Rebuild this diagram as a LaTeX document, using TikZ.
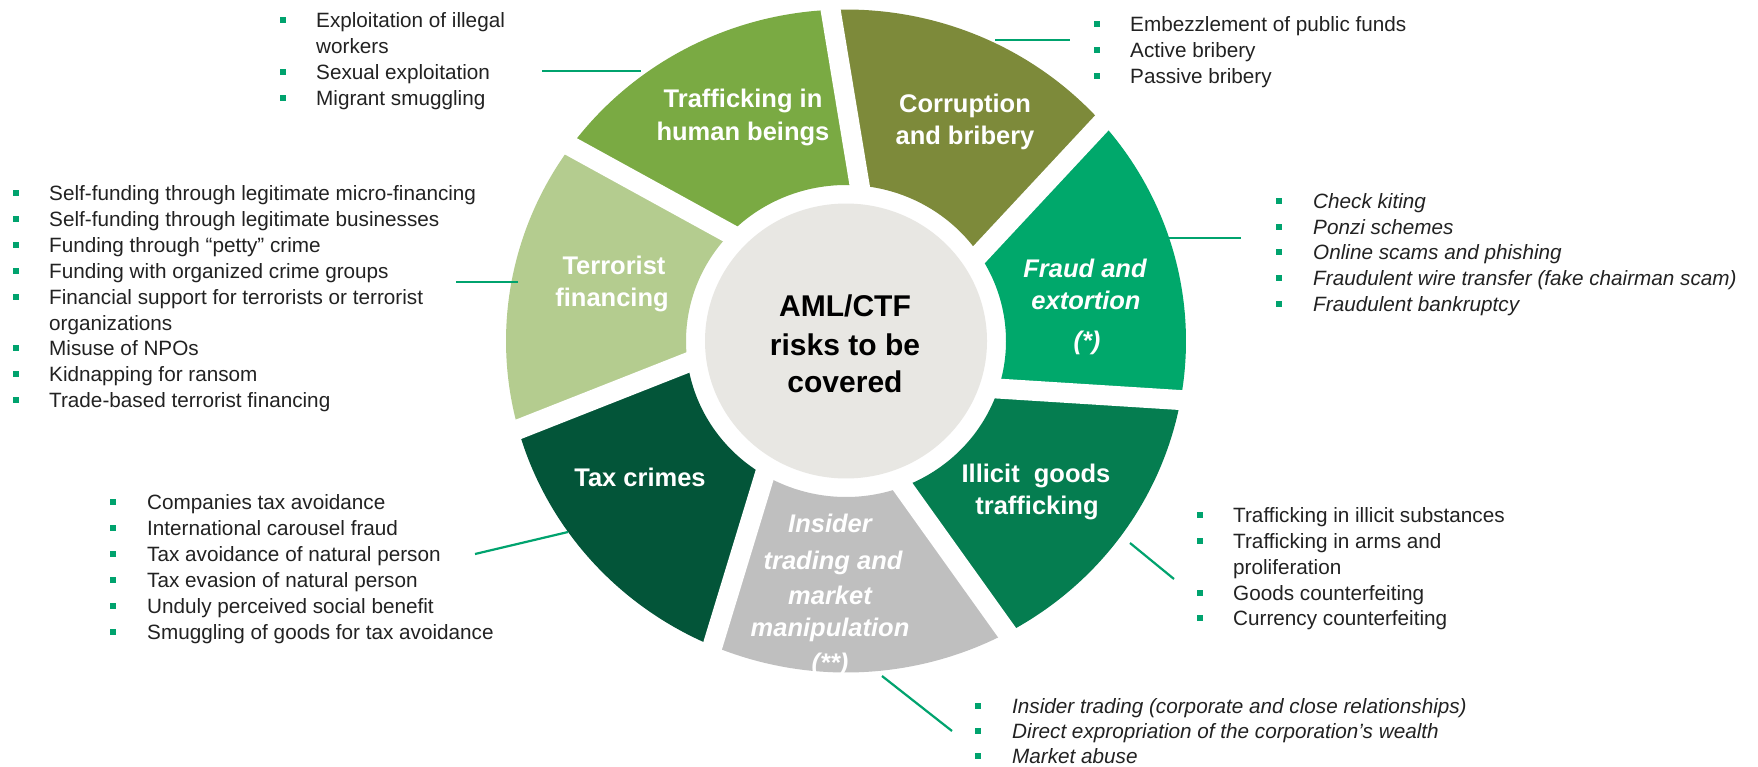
\documentclass[tikz,border=0pt]{standalone}
\usepackage{fontspec}
\setmainfont{Liberation Sans}
\usetikzlibrary{calc}

\definecolor{cTraf}{HTML}{7AAA43}
\definecolor{cCor}{HTML}{7D8A3A}
\definecolor{cFra}{HTML}{00A86B}
\definecolor{cIll}{HTML}{057D50}
\definecolor{cIns}{HTML}{BFBFBF}
\definecolor{cTax}{HTML}{035539}
\definecolor{cTer}{HTML}{B4CC8F}
\definecolor{cHub}{HTML}{E8E7E3}
\definecolor{lead}{HTML}{00A36E}
\definecolor{txt}{HTML}{222222}

% bulleted list line: [style]{name}{bullet x}{text x}{line centre y}{text}
\newcommand\bitem[6][listtext]{%
  \fill[lead] (#3-3.2,#5-3.2) rectangle (#3+3.2,#5+3.2);
  \node[#1] (#2) at (#4,#5+7.5) {#6};}
% continuation line of an item
\newcommand\citem[5][listtext]{%
  \node[#1] (#2) at (#3,#4+7.5) {#5};}

\begin{document}
\begin{tikzpicture}[x=1pt,y=-1pt,
  listtext/.style={anchor=base west, inner sep=0pt, text=txt,
    font=\fontsize{20.7}{26}\selectfont},
  listital/.style={listtext, font=\fontsize{20.7}{26}\selectfont\itshape},
  seglabel/.style={anchor=base, inner sep=0pt, text=white,
    font=\fontsize{25.5}{32}\selectfont\bfseries},
  segital/.style={seglabel, font=\fontsize{25.5}{32}\selectfont\bfseries\itshape},
  hub/.style={anchor=base, inner sep=0pt, text=black,
    font=\fontsize{30}{38}\selectfont\bfseries},
  leader/.style={draw=lead, line width=2.2pt},
  gapline/.style={draw=white, line width=20pt},
]
\fill[white] (0,0) rectangle (1758,766);
\useasboundingbox (0,0) rectangle (1758,766);

% ---- ring of seven segments around the hub ----
\begin{scope}[shift={(846,341)}, yscale=-0.975]
  \foreach \a/\c in {92.6/cCor, 41.17/cFra, -10.26/cIll, -61.69/cIns,
                     -113.11/cTax, -164.54/cTer, -215.97/cTraf}{
    \fill[\c] (\a:340) arc[start angle=\a, end angle=\a-51.43, radius=340]
      -- ({\a-58.93}:160) arc[start angle=\a-58.93, end angle=\a-7.5, radius=160]
      -- cycle;
  }
  \foreach \a in {92.6, 41.17, -10.26, -61.69, -113.11, -164.54, -215.97}{
    \draw[gapline] ($({\a-7.5}:160)!-0.15!(\a:340)$) -- ($({\a-7.5}:160)!1.15!(\a:340)$);
  }
  \fill[cHub] (0,0) circle[radius=141];
\end{scope}

% ---- hub text ----
\node[hub] (hub1) at (845,316) {AML/CTF};
\node[hub] (hub2) at (845,355) {risks to be};
\node[hub] (hub3) at (845,392) {covered};

% ---- segment labels ----
\node[seglabel] (traf1) at (743,107) {Trafficking in};
\node[seglabel] (traf2) at (743,140) {human beings};
\node[seglabel] (cor1) at (965,112) {Corruption};
\node[seglabel] (cor2) at (965,144) {and bribery};
\node[segital] (fra1) at (1085,277) {Fraud and};
\node[segital] (fra2) at (1086,309) {extortion};
\node[segital] (fra3) at (1087,349) {(*)};
\node[seglabel] (ter1) at (614,274) {Terrorist};
\node[seglabel] (ter2) at (612,306) {financing};
\node[seglabel] (tax1) at (640,486) {Tax crimes};
\node[seglabel] (ill1) at (1036,482) {Illicit \ goods};
\node[seglabel] (ill2) at (1037,514) {trafficking};
\node[segital] (ins1) at (830,532) {Insider};
\node[segital] (ins2) at (833,569) {trading and};
\node[segital] (ins3) at (830,604) {market};
\node[segital] (ins4) at (830,636) {manipulation};
\node[segital] (ins5) at (830,671) {(**)};

% ---- leader lines ----
\coordinate (ltrafA) at (542,71);   \coordinate (ltrafB) at (641,71);
\coordinate (lcorA) at (995,40);    \coordinate (lcorB) at (1070,40);
\coordinate (lfraA) at (1167,238);  \coordinate (lfraB) at (1241,238);
\coordinate (lterA) at (456,282);   \coordinate (lterB) at (518,282);
\coordinate (ltaxA) at (475,554);   \coordinate (ltaxB) at (568,532);
\coordinate (lillA) at (1130,543);  \coordinate (lillB) at (1174,579);
\coordinate (linsA) at (882,676);   \coordinate (linsB) at (952,731);
\draw[leader] (ltrafA) -- (ltrafB);
\draw[leader] (lcorA) -- (lcorB);
\draw[leader] (lfraA) -- (lfraB);
\draw[leader] (lterA) -- (lterB);
\draw[leader] (ltaxA) -- (ltaxB);
\draw[leader] (lillA) -- (lillB);
\draw[leader] (linsA) -- (linsB);

% ---- lists ----
% human trafficking
\bitem{lt1}{283}{316}{20}{Exploitation of illegal}
\citem{lt1b}{316}{46}{workers}
\bitem{lt2}{283}{316}{72}{Sexual exploitation}
\bitem{lt3}{283}{316}{98}{Migrant smuggling}

% corruption
\bitem{lc1}{1097}{1130}{24}{Embezzlement of public funds}
\bitem{lc2}{1097}{1130}{50}{Active bribery}
\bitem{lc3}{1097}{1130}{76}{Passive bribery}

% fraud
\bitem[listital]{lf1}{1279}{1313}{201}{Check kiting}
\bitem[listital]{lf2}{1279}{1313}{227}{Ponzi schemes}
\bitem[listital]{lf3}{1279}{1313}{252}{Online scams and phishing}
\bitem[listital]{lf4}{1279}{1313}{278}{Fraudulent wire transfer (fake chairman scam)}
\bitem[listital]{lf5}{1279}{1313}{304}{Fraudulent bankruptcy}

% terrorist financing
\bitem{le1}{16}{49}{193}{Self-funding through legitimate micro-financing}
\bitem{le2}{16}{49}{219}{Self-funding through legitimate businesses}
\bitem{le3}{16}{49}{245}{Funding through “petty” crime}
\bitem{le4}{16}{49}{271}{Funding with organized crime groups}
\bitem{le5}{16}{49}{297}{Financial support for terrorists or terrorist}
\citem{le5b}{49}{323}{organizations}
\bitem{le6}{16}{49}{348}{Misuse of NPOs}
\bitem{le7}{16}{49}{374}{Kidnapping for ransom}
\bitem{le8}{16}{49}{400}{Trade-based terrorist financing}

% tax crimes
\bitem{lx1}{113}{147}{502}{Companies tax avoidance}
\bitem{lx2}{113}{147}{528}{International carousel fraud}
\bitem{lx3}{113}{147}{554}{Tax avoidance of natural person}
\bitem{lx4}{113}{147}{580}{Tax evasion of natural person}
\bitem{lx5}{113}{147}{606}{Unduly perceived social benefit}
\bitem{lx6}{113}{147}{632}{Smuggling of goods for tax avoidance}

% illicit goods
\bitem{lg1}{1200}{1233}{515}{Trafficking in illicit substances}
\bitem{lg2}{1200}{1233}{541}{Trafficking in arms and}
\citem{lg2b}{1233}{567}{proliferation}
\bitem{lg3}{1200}{1233}{593}{Goods counterfeiting}
\bitem{lg4}{1200}{1233}{618}{Currency counterfeiting}

% insider trading
\bitem[listital]{li1}{978}{1012}{706}{Insider trading (corporate and close relationships)}
\bitem[listital]{li2}{978}{1012}{731}{Direct expropriation of the corporation’s wealth}
\bitem[listital]{li3}{978}{1012}{756}{Market abuse}
\end{tikzpicture}
\end{document}
